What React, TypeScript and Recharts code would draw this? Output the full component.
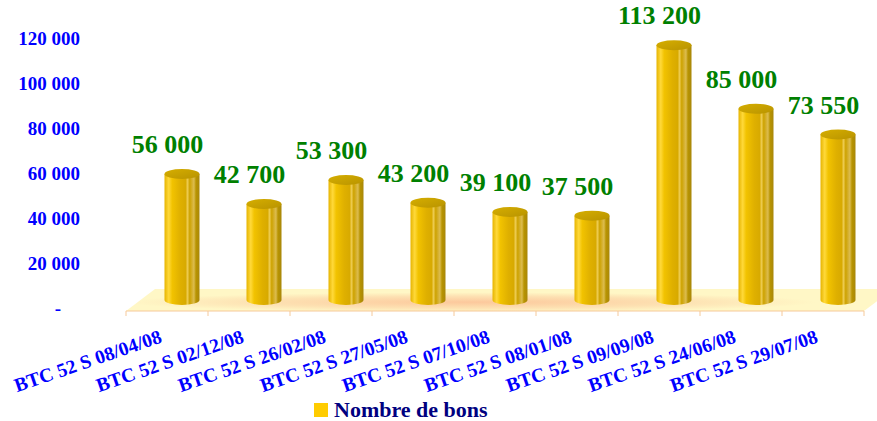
import React from 'react';
import { BarChart, Bar, XAxis, YAxis, LabelList } from 'recharts';

const categories = [
  'BTC 52 S 08/04/08',
  'BTC 52 S 02/12/08',
  'BTC 52 S 26/02/08',
  'BTC 52 S 27/05/08',
  'BTC 52 S 07/10/08',
  'BTC 52 S 08/01/08',
  'BTC 52 S 09/09/08',
  'BTC 52 S 24/06/08',
  'BTC 52 S 29/07/08',
];
const bons = [56000, 42700, 53300, 43200, 39100, 37500, 113200, 85000, 73550];
const yTicks = [0, 20000, 40000, 60000, 80000, 100000, 120000];
const seriesName = 'Nombre de bons';

const data = categories.map((name, i) => ({ name, bons: bons[i] }));

const W = 877;
const H = 421;
const PLOT_LEFT = 126;
const PLOT_RIGHT = 864;
const PLOT_TOP = 41;
const X_AXIS_H = 110;
const PLOT_BOTTOM = H - X_AXIS_H;
const BAND = (PLOT_RIGHT - PLOT_LEFT) / categories.length;
// 3D depth of the floor; bars sit half way back
const DEPTH_X = 29;
const DEPTH_Y = -22;
const DX = DEPTH_X / 2;
const DY = DEPTH_Y / 2;
const AXIS_COLOR = '#f6c99a';

const SERIF = '"Liberation Serif", "Times New Roman", serif';

const fmt = (v: number) => String(v).replace(/\B(?=(\d{3})+(?!\d))/g, ' ');

const Cylinder = (props: any) => {
  const { x, y, width, height } = props;
  const rx = width / 2;
  const ry = 5;
  const cx = x + rx + DX;
  const top = y + DY;
  const bot = y + height + DY;
  const l = cx - rx;
  const r = cx + rx;
  return (
    <g>
      <path
        d={`M${l},${top} L${l},${bot} A${rx},${ry} 0 0 0 ${r},${bot} L${r},${top} Z`}
        fill="url(#cylBody)"
      />
      <ellipse cx={cx} cy={top} rx={rx} ry={ry} fill="url(#cylCap)" />
    </g>
  );
};

const ValueLabel = (props: any) => {
  const { x, y, width, value } = props;
  const cx = x + width / 2;
  const by = y + DY - 21;
  return (
    <text x={cx} y={by} textAnchor="middle" fill="#008000" fontFamily={SERIF} fontWeight="bold" fontSize={26}>
      {fmt(value)}
    </text>
  );
};

const YTick = (props: any) => {
  const { x, y, payload } = props;
  if (payload.value === 0) {
    return (
      <text x={58} y={y + 4} textAnchor="middle" fill="#0000ff" fontFamily={SERIF} fontWeight="bold" fontSize={19}>
        -
      </text>
    );
  }
  return (
    <text x={x} y={y + 3.5} textAnchor="end" fill="#0000ff" fontFamily={SERIF} fontWeight="bold" fontSize={19}>
      {fmt(payload.value)}
    </text>
  );
};

// category label + tick marks on the category boundaries
const XTick = (props: any) => {
  const { x, y, payload, index } = props;
  const tx = x - 4;
  const ty = y + 31;
  const edge = x - BAND / 2;
  const isLast = index === categories.length - 1;
  return (
    <g>
      <line x1={edge} y1={y} x2={edge} y2={y + 5} stroke={AXIS_COLOR} />
      {isLast && <line x1={x + BAND / 2} y1={y} x2={x + BAND / 2} y2={y + 5} stroke={AXIS_COLOR} />}
      <text
        x={tx}
        y={ty}
        transform={`rotate(-19 ${tx} ${ty})`}
        textAnchor="end"
        fill="#0000ff"
        fontFamily={SERIF}
        fontWeight="bold"
        fontSize={19.5}
      >
        {payload.value}
      </text>
    </g>
  );
};

const Floor = () => (
  <svg width={W} height={H} style={{ position: 'absolute', left: 0, top: 0 }}>
    <defs>
      <linearGradient id="cylBody" x1="0" y1="0" x2="1" y2="0">
        <stop offset="0" stopColor="#e6b400" />
        <stop offset="0.12" stopColor="#ffd93a" />
        <stop offset="0.22" stopColor="#f2c300" />
        <stop offset="0.45" stopColor="#dfb000" />
        <stop offset="0.6" stopColor="#d8aa00" />
        <stop offset="0.66" stopColor="#edcb50" />
        <stop offset="0.72" stopColor="#cda200" />
        <stop offset="0.84" stopColor="#dcbc50" />
        <stop offset="0.9" stopColor="#b89400" />
        <stop offset="1" stopColor="#a8870a" />
      </linearGradient>
      <linearGradient id="cylCap" x1="0" y1="0" x2="1" y2="1">
        <stop offset="0" stopColor="#d6ae00" />
        <stop offset="1" stopColor="#b89300" />
      </linearGradient>
      <radialGradient id="floorGlow" cx="0.45" cy="0.6" r="0.45">
        <stop offset="0" stopColor="#fcc89c" />
        <stop offset="0.6" stopColor="#fde1b2" />
        <stop offset="1" stopColor="#fff7c6" />
      </radialGradient>
    </defs>
    <polygon
      points={`${PLOT_LEFT},${PLOT_BOTTOM} ${PLOT_RIGHT},${PLOT_BOTTOM} ${PLOT_RIGHT + DEPTH_X},${PLOT_BOTTOM + DEPTH_Y} ${PLOT_LEFT + DEPTH_X},${PLOT_BOTTOM + DEPTH_Y}`}
      fill="url(#floorGlow)"
    />
  </svg>
);

const App: React.FC = () => {
  return (
    <div style={{ position: 'absolute', left: 0, top: 0, width: W, height: H, background: '#fff' }}>
      <Floor />
      <div style={{ position: 'absolute', left: 0, top: 0 }}>
        <BarChart
          width={W}
          height={H}
          data={data}
          margin={{ top: PLOT_TOP, right: W - PLOT_RIGHT, left: 0, bottom: 0 }}
          barCategoryGap={0}
        >
          <XAxis
            dataKey="name"
            height={X_AXIS_H}
            interval={0}
            tickLine={false}
            axisLine={{ stroke: AXIS_COLOR }}
            tickSize={0}
            tickMargin={0}
            tick={<XTick />}
          />
          <YAxis
            width={PLOT_LEFT}
            domain={[0, 120000]}
            ticks={yTicks}
            axisLine={false}
            tickLine={false}
            tickSize={0}
            tickMargin={46}
            tick={<YTick />}
          />
          <Bar dataKey="bons" name={seriesName} barSize={35} shape={<Cylinder />} isAnimationActive={false}>
            <LabelList dataKey="bons" content={<ValueLabel />} />
          </Bar>
        </BarChart>
      </div>
      <div
        style={{
          position: 'absolute',
          left: 314,
          top: 397,
          display: 'flex',
          alignItems: 'center',
          fontFamily: SERIF,
          fontWeight: 'bold',
          fontSize: 22,
          color: '#000080',
          whiteSpace: 'nowrap',
        }}
      >
        <span style={{ display: 'inline-block', width: 14, height: 14, background: '#ffcc00', marginRight: 6 }} />
        {seriesName}
      </div>
    </div>
  );
};

export default App;
